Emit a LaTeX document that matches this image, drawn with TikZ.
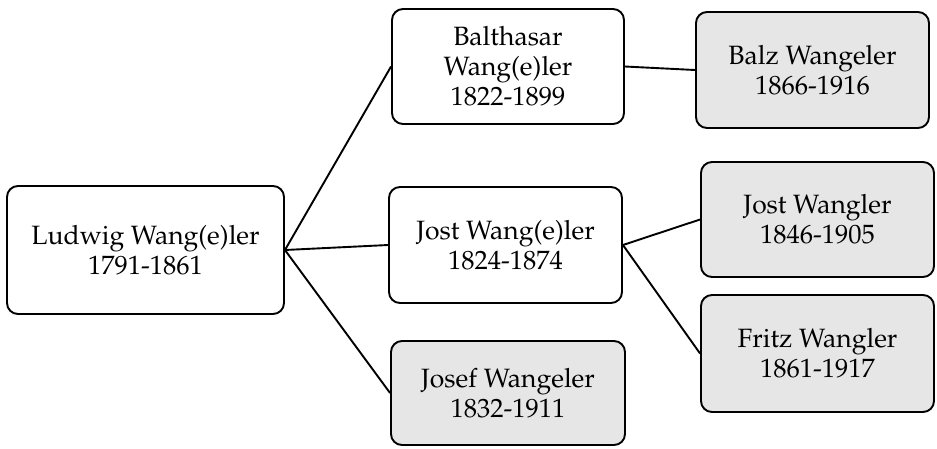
\documentclass[tikz,border=0pt]{standalone}
\usepackage[T1]{fontenc}
\usepackage{mathpazo}
\definecolor{boxgrey}{HTML}{E6E6E6}
\tikzset{
  person/.style={draw=black, line width=1.9pt, rounded corners=11pt, fill=white,
    align=center, inner sep=0pt, font=\fontsize{26.5}{30}\selectfont},
  later/.style={person, fill=boxgrey},
  link/.style={line width=1.9pt, black}
}
\begin{document}
\begin{tikzpicture}[x=1pt,y=-1pt]
\useasboundingbox (0,0) rectangle (937,448);
\node[person, minimum width=277pt, minimum height=128pt] (lud) at (145.5,250) {Ludwig Wang(e)ler\\1791-1861};
\node[person, minimum width=232pt, minimum height=115pt] (bal) at (508,66.5) {Balthasar\\Wang(e)ler\\1822-1899};
\node[person, minimum width=233pt, minimum height=116pt] (jost) at (505.5,245) {Jost Wang(e)ler\\1824-1874};
\node[later, minimum width=234pt, minimum height=104pt] (josef) at (508,393) {Josef Wangeler\\1832-1911};
\node[later, minimum width=233pt, minimum height=116pt] (balz) at (812.5,70) {Balz Wangeler\\1866-1916};
\node[later, minimum width=233pt, minimum height=115pt] (jostw) at (817.5,219.5) {Jost Wangler\\1846-1905};
\node[later, minimum width=233pt, minimum height=117pt] (fritz) at (817.5,353.5) {Fritz Wangler\\1861-1917};
\draw[link] (lud.east) -- (bal.west);
\draw[link] (lud.east) -- (jost.west);
\draw[link] (lud.east) -- (josef.west);
\draw[link] (bal.east) -- (balz.west);
\draw[link] (jost.east) -- (jostw.west);
\draw[link] (jost.east) -- (fritz.west);
\end{tikzpicture}
\end{document}
